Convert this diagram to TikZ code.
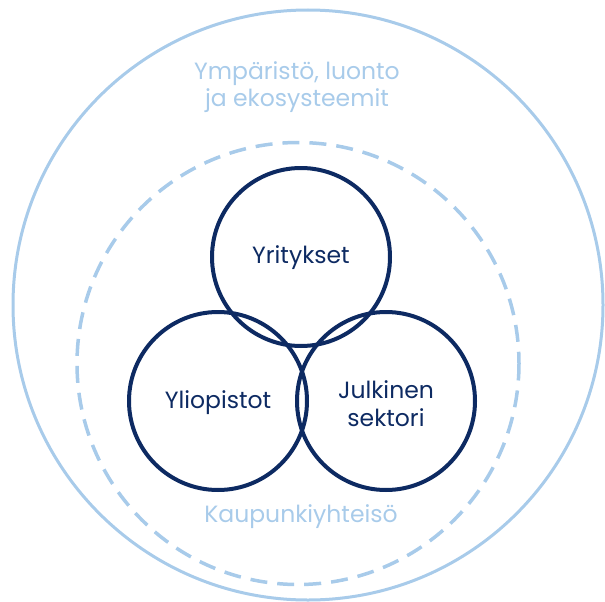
\documentclass[tikz,border=0pt]{standalone}
\usepackage{fontspec}
\setmainfont{Poppins}
\definecolor{sky}{HTML}{A8CBEA}
\definecolor{navy}{HTML}{0D2A62}
\begin{document}
\begin{tikzpicture}[x=1pt,y=-1pt,
  ring/.style={draw=sky, line width=3pt},
  dashring/.style={draw=sky, line width=3.5pt, dash pattern=on 17pt off 10pt},
  actor/.style={circle, draw=navy, line width=4pt, minimum size=178pt, inner sep=0pt},
  actorlabel/.style={text=navy, font=\fontsize{23.5}{28}\selectfont, align=center},
  envlabel/.style={text=sky, font=\fontsize{23.5}{27}\selectfont, align=center}]
  \useasboundingbox (0,0) rectangle (605,602);
  % environment and community
  \draw[ring] (308,305) circle[radius=295];
  \draw[dashring] (298,363.5) circle[radius=221];
  \node[envlabel] (env) at (297,87) {Ympäristö, luonto\\ja ekosysteemit};
  \node[envlabel] (city) at (301,517) {Kaupunkiyhteisö};
  % the three actors
  \node[actor] (biz) at (301,257) {};
  \node[actor] (uni) at (218,401) {};
  \node[actor] (pub) at (386,401) {};
  \node[actorlabel] (bizlabel) at ([yshift=-1pt]biz.center) {Yritykset};
  \node[actorlabel] (unilabel) at ([yshift=-2pt]uni.center) {Yliopistot};
  \node[actorlabel] (publabel) at ([yshift=-3pt]pub.center) {Julkinen\\sektori};
\end{tikzpicture}
\end{document}
